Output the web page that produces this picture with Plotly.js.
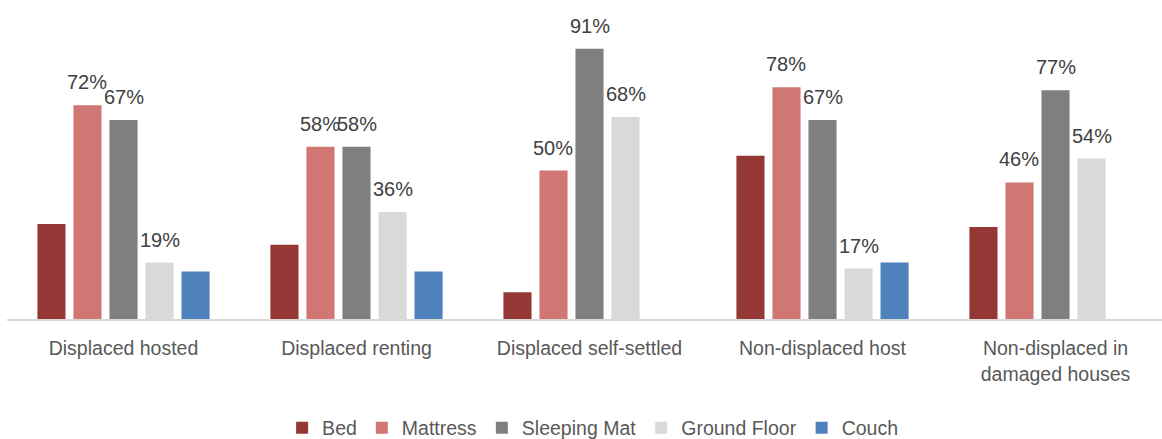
<!DOCTYPE html>
<html>
<head>
<meta charset="utf-8">
<script src="https://cdn.plot.ly/plotly-3.0.1.min.js"></script>
<style>html,body{margin:0;padding:0;background:#fff;}#chart{width:1162px;height:439px;}</style>
</head>
<body>
<div id="chart"></div>
<script>
const categories = ["Displaced hosted", "Displaced renting", "Displaced self-settled", "Non-displaced host", "Non-displaced in<br>damaged houses"];
const seriesNames = ["Bed", "Mattress", "Sleeping Mat", "Ground Floor", "Couch"];
const bed = [32, 25, 9, 55, 31];
const mattress = [72, 58, 50, 78, 46];
const sleepingMat = [67, 58, 91, 67, 77];
const groundFloor = [19, 36, 68, 17, 54];
const couch = [16, 16, null, 19, null];
const colors = ["#953735", "#D07673", "#7F7F7F", "#D9D9D9", "#4F81BD"];
const labeledSeries = [false, true, true, true, false];

const allValues = [bed, mattress, sleepingMat, groundFloor, couch];
const FONT = '"Liberation Sans", Arial, sans-serif';
const bargap = 0.227, bargroupgap = 0.22;

const traces = allValues.map((vals, k) => ({
  type: 'bar',
  name: seriesNames[k],
  x: categories,
  y: vals,
  marker: {color: colors[k]},
  hoverinfo: 'none'
}));

const slot = (1 - bargap) / allValues.length;
const annotations = [];
allValues.forEach((vals, k) => {
  if (!labeledSeries[k]) return;
  vals.forEach((v, i) => {
    if (v == null) return;
    annotations.push({
      x: i + (k - (allValues.length - 1) / 2) * slot,
      y: v,
      xref: 'x', yref: 'y',
      text: v + '%',
      showarrow: false,
      yanchor: 'bottom',
      yshift: 10,
      font: {family: FONT, size: 20, color: '#404040'}
    });
  });
});

const layout = {
  width: 1162, height: 439,
  margin: {l: 7, r: 0, t: 22, b: 120},
  paper_bgcolor: '#fff', plot_bgcolor: '#fff',
  barmode: 'group', bargap: bargap, bargroupgap: bargroupgap,
  showlegend: true,
  legend: {
    orientation: 'h', xref: 'container', yref: 'container',
    x: 0.51, xanchor: 'center', y: 0.025, yanchor: 'middle',
    font: {family: FONT, size: 19.5, color: '#595959'},
    traceorder: 'normal'
  },
  xaxis: {
    type: 'category',
    range: [-0.5, 4.457],
    showgrid: false, zeroline: false,
    showline: true, linecolor: '#D9D9D9', linewidth: 2,
    ticks: '',
    ticklabelstandoff: 11,
    tickfont: {family: FONT, size: 19.5, color: '#595959'},
    fixedrange: true
  },
  yaxis: {
    range: [0, 100],
    showgrid: false, zeroline: false, showline: false,
    showticklabels: false, ticks: '',
    fixedrange: true
  },
  annotations: annotations,
  font: {family: FONT}
};

Plotly.newPlot('chart', traces, layout, {displayModeBar: false, staticPlot: true});
</script>
</body>
</html>
